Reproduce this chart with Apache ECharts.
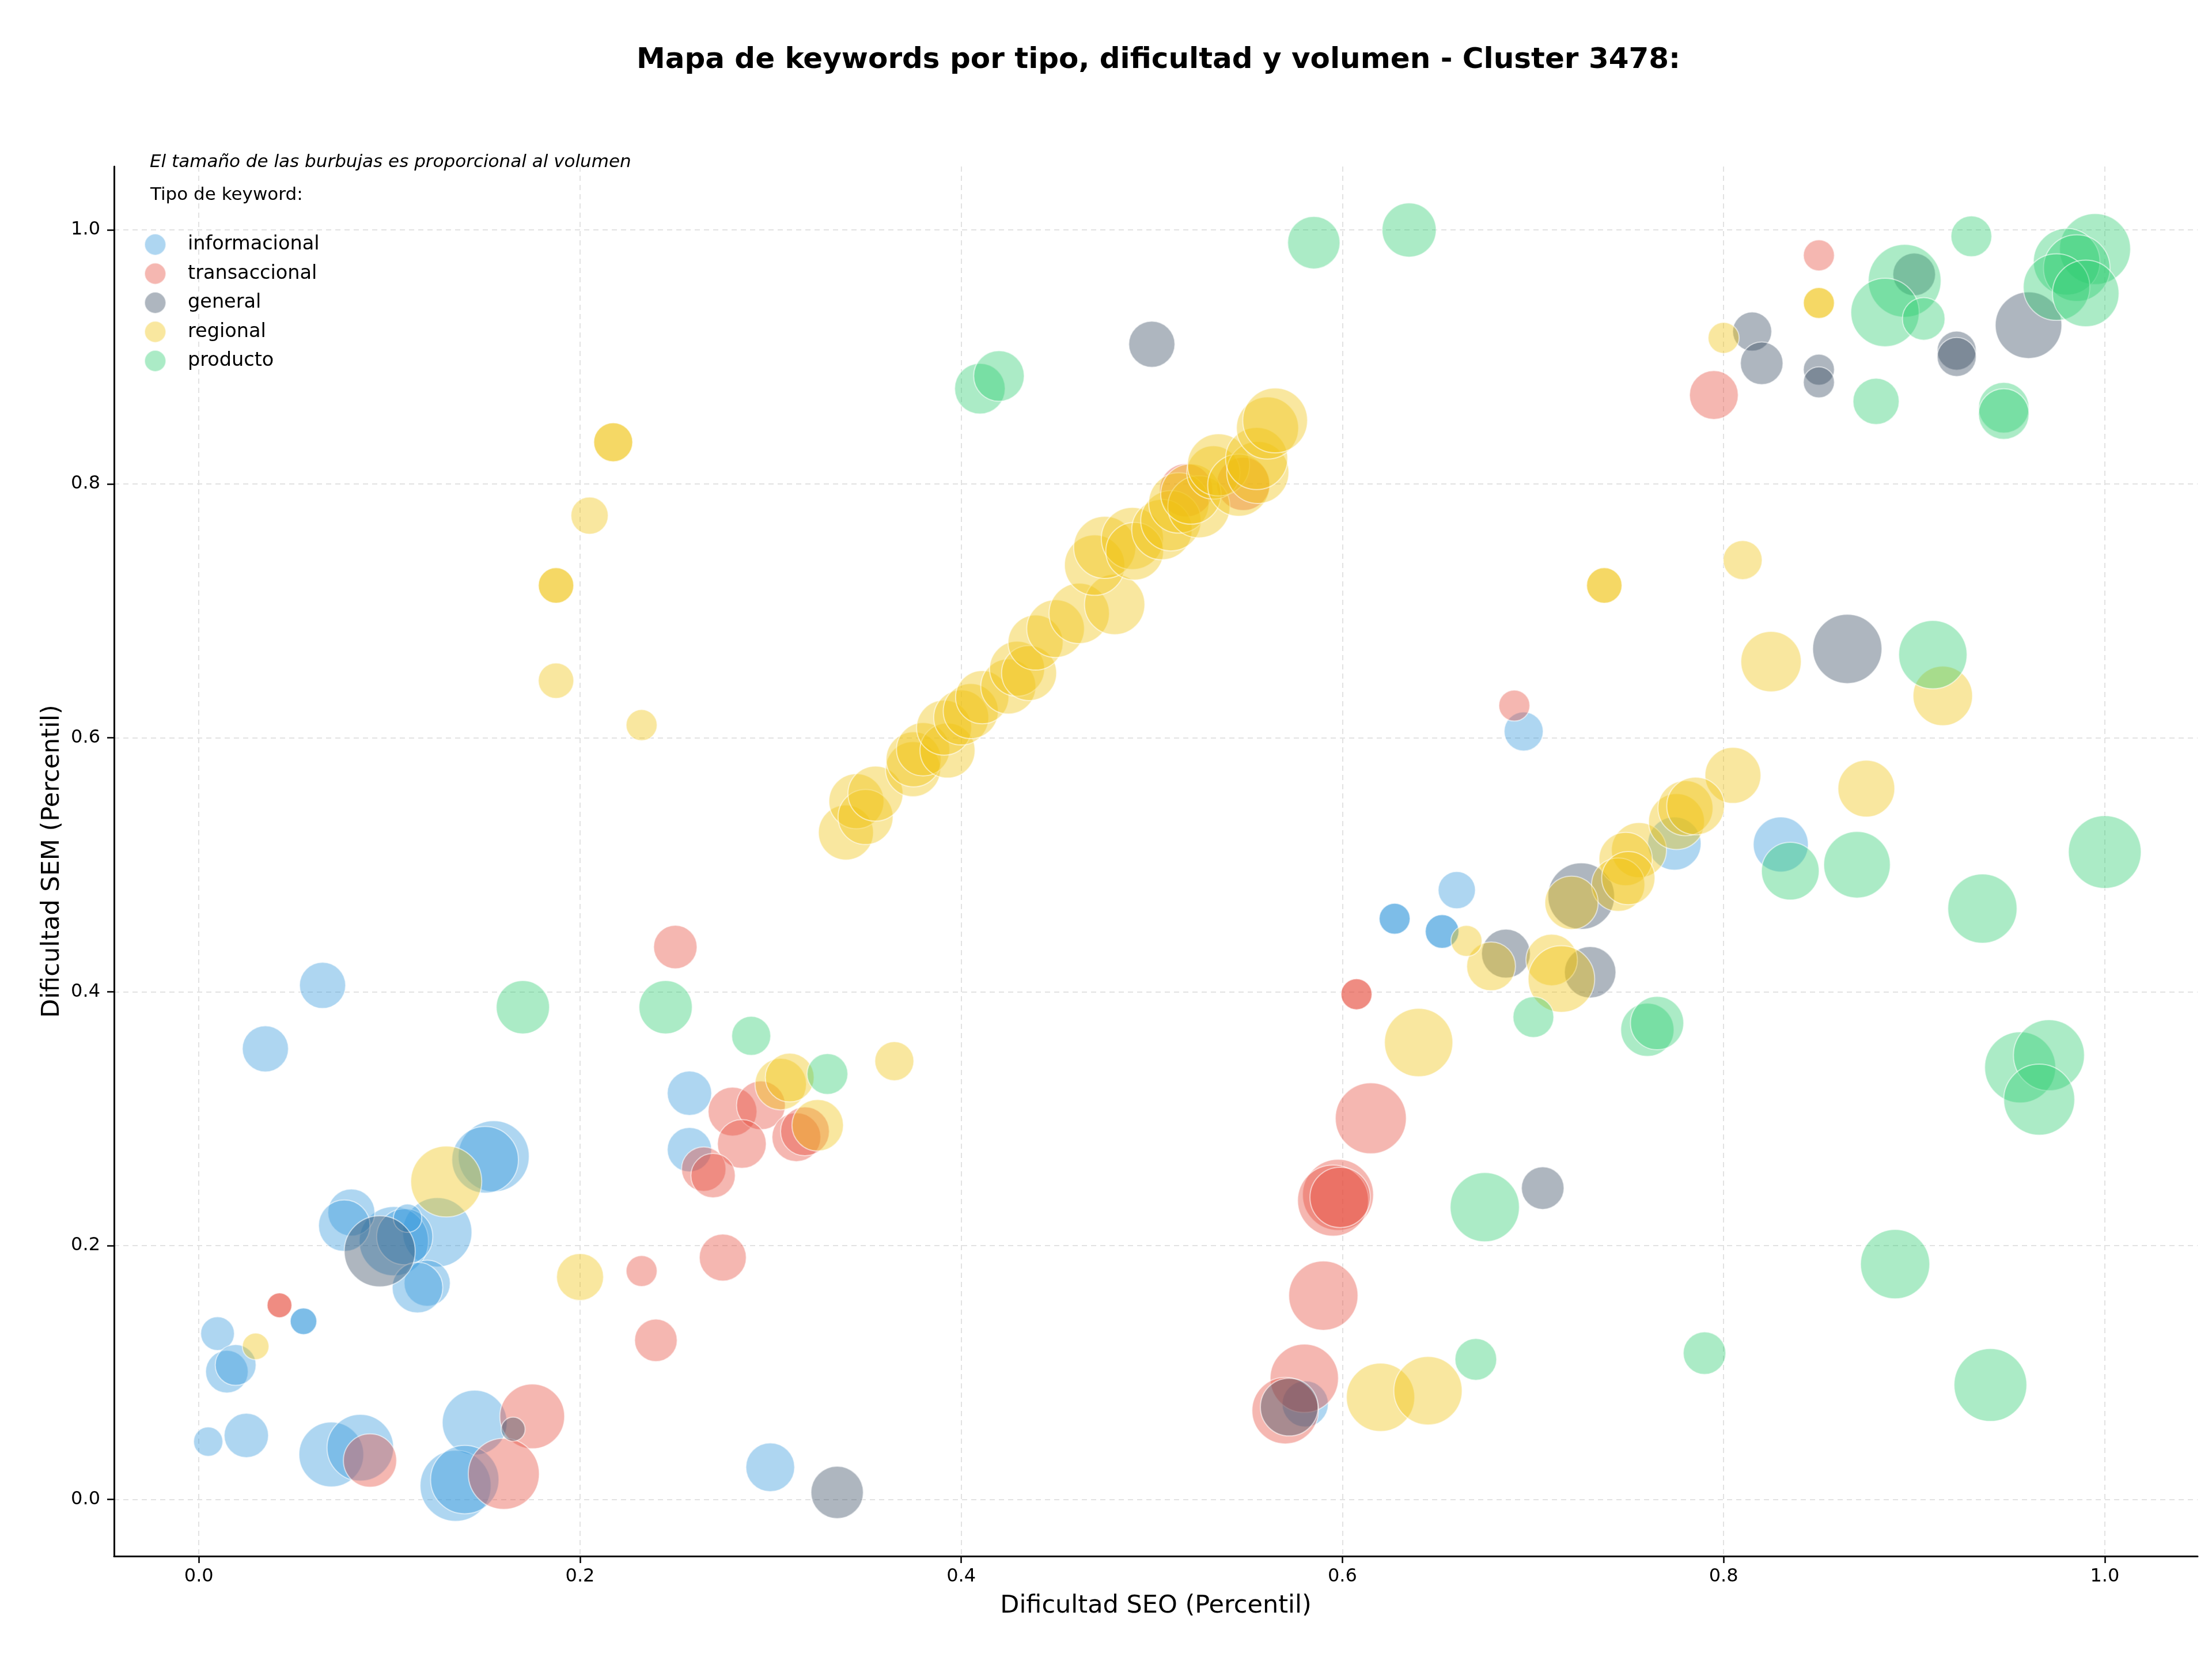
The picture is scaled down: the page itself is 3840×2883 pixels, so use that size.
<!DOCTYPE html>
<html>
<head>
<meta charset="utf-8">
<title>Mapa de keywords</title>
<script src="https://cdn.jsdelivr.net/npm/echarts@6/dist/echarts.min.js"></script>
<style>
  html, body { margin: 0; padding: 0; background: #fff; }
  #chart { width: 3840px; height: 2883px; }
</style>
</head>
<body>
<div id="chart"></div>
<script>
// datos: [dificultad SEO, dificultad SEM, volumen]
const informacional = [
  [0.0649, 0.405, 676], [0.0349, 0.355, 676], [0.2574, 0.320, 625], [0.2574, 0.2756, 625],
  [0.2998, 0.0254, 756], [0.1547, 0.2704, 1600], [0.1502, 0.2676, 1406], [0.1251, 0.2105, 1521],
  [0.1023, 0.2035, 1521], [0.108, 0.207, 1000], [0.1095, 0.2216, 256], [0.080, 0.2261, 702],
  [0.0763, 0.2157, 841], [0.1198, 0.1704, 676], [0.1147, 0.1669, 812], [0.0549, 0.1404, 225],
  [0.0549, 0.1404, 225], [0.0098, 0.1307, 361], [0.0147, 0.1007, 576], [0.0193, 0.106, 529],
  [0.0049, 0.0456, 272], [0.0249, 0.0505, 625], [0.0695, 0.0355, 1332], [0.0847, 0.0408, 1406],
  [0.1447, 0.0606, 1332], [0.1347, 0.0108, 1600], [0.1395, 0.0157, 1482],
  [0.660, 0.480, 441], [0.6274, 0.4575, 306], [0.6274, 0.4575, 306], [0.6523, 0.4474, 361],
  [0.6523, 0.4474, 361], [0.5805, 0.0753, 676], [0.6951, 0.605, 484], [0.7742, 0.5167, 900],
  [0.830, 0.516, 961]
]
const transaccional = [
  [0.250, 0.4352, 600], [0.280, 0.3056, 756], [0.2949, 0.3105, 756], [0.2849, 0.2801, 756],
  [0.2649, 0.2603, 625], [0.2698, 0.2551, 625], [0.3135, 0.2854, 756], [0.318, 0.290, 756],
  [0.2323, 0.180, 306], [0.2749, 0.1906, 702], [0.2398, 0.1254, 576], [0.0423, 0.153, 196],
  [0.0423, 0.153, 196], [0.0898, 0.0307, 900], [0.1749, 0.0655, 1332], [0.160, 0.0202, 1600],
  [0.518, 0.795, 900], [0.548, 0.800, 900], [0.6902, 0.6254, 306], [0.850, 0.980, 306],
  [0.7949, 0.870, 756], [0.6074, 0.398, 306], [0.6074, 0.398, 306], [0.6149, 0.3003, 1600],
  [0.5977, 0.240, 1600], [0.5951, 0.2355, 1600], [0.5988, 0.238, 1156], [0.590, 0.1606, 1521],
  [0.580, 0.0955, 1482], [0.570, 0.070, 1406]
]
const general = [
  [0.500, 0.910, 676], [0.815, 0.920, 484], [0.820, 0.895, 576], [0.850, 0.890, 306],
  [0.850, 0.880, 306], [0.900, 0.965, 576], [0.9223, 0.905, 484], [0.9223, 0.900, 484],
  [0.960, 0.925, 1406], [0.8649, 0.670, 1521], [0.7253, 0.4753, 1406], [0.730, 0.4153, 841],
  [0.6858, 0.430, 756], [0.7051, 0.2453, 576], [0.5721, 0.0728, 1056], [0.3349, 0.0056, 870],
  [0.0949, 0.1955, 1600], [0.1649, 0.0554, 182]
]
const regional = [
  [0.2174, 0.8328, 484], [0.2174, 0.8328, 484], [0.205, 0.775, 441], [0.1874, 0.720, 400],
  [0.1874, 0.720, 400], [0.1874, 0.645, 400], [0.2323, 0.610, 306],
  [0.3395, 0.5254, 961], [0.345, 0.550, 961], [0.3498, 0.5376, 961], [0.355, 0.556, 961],
  [0.3747, 0.5753, 961], [0.375, 0.583, 961], [0.380, 0.591, 900], [0.3928, 0.590, 961],
  [0.391, 0.608, 961], [0.400, 0.616, 961], [0.405, 0.621, 961], [0.411, 0.632, 900],
  [0.4247, 0.6404, 961], [0.4293, 0.6544, 961], [0.4356, 0.651, 961], [0.439, 0.675, 961],
  [0.4495, 0.686, 1056], [0.4619, 0.698, 1156], [0.4805, 0.705, 1156], [0.470, 0.736, 1156],
  [0.4753, 0.750, 1225], [0.4898, 0.757, 1225], [0.491, 0.747, 1056], [0.5053, 0.764, 1156],
  [0.510, 0.771, 1156], [0.5142, 0.785, 1156], [0.5247, 0.782, 1225], [0.5205, 0.792, 1156],
  [0.5323, 0.809, 900], [0.535, 0.815, 1225], [0.5456, 0.799, 1225], [0.5556, 0.809, 1225],
  [0.555, 0.820, 1225], [0.5607, 0.844, 1225], [0.5647, 0.850, 1332],
  [0.850, 0.9425, 306], [0.850, 0.9425, 306], [0.800, 0.915, 306], [0.7374, 0.720, 400],
  [0.7374, 0.720, 400], [0.810, 0.740, 484], [0.8249, 0.660, 1156], [0.915, 0.633, 1122],
  [0.8049, 0.5704, 992], [0.8749, 0.560, 1024], [0.7556, 0.5115, 961], [0.7753, 0.534, 992],
  [0.780, 0.5446, 961], [0.7853, 0.5463, 1056], [0.7486, 0.5045, 900], [0.7447, 0.4843, 900],
  [0.750, 0.4895, 900], [0.7202, 0.470, 900], [0.7098, 0.425, 841], [0.7149, 0.410, 1406],
  [0.678, 0.420, 756], [0.6651, 0.440, 306], [0.640, 0.360, 1482], [0.620, 0.0805, 1482],
  [0.6449, 0.0857, 1482], [0.3649, 0.3453, 484], [0.3053, 0.3272, 841], [0.310, 0.3324, 756],
  [0.3247, 0.2948, 841], [0.200, 0.1753, 702], [0.1298, 0.2505, 1600], [0.0298, 0.1206, 225]
]
const producto = [
  [0.4098, 0.875, 812], [0.4198, 0.885, 812], [0.585, 0.990, 870], [0.635, 1.000, 930],
  [0.880, 0.865, 676], [0.895, 0.960, 1681], [0.8847, 0.935, 1482], [0.905, 0.930, 576],
  [0.930, 0.995, 529], [0.947, 0.860, 812], [0.947, 0.855, 812], [0.9949, 0.985, 1600],
  [0.980, 0.975, 1406], [0.9853, 0.970, 1406], [0.9747, 0.955, 1406], [0.990, 0.950, 1406],
  [0.9098, 0.6655, 1482], [0.835, 0.495, 1056], [0.870, 0.500, 1406], [1.000, 0.510, 1681],
  [0.9358, 0.4655, 1521], [0.9556, 0.3404, 1600], [0.9707, 0.350, 1600], [0.9656, 0.315, 1600],
  [0.890, 0.1854, 1521], [0.940, 0.0902, 1681], [0.790, 0.1153, 576], [0.7002, 0.380, 529],
  [0.760, 0.370, 900], [0.7651, 0.3753, 900], [0.6747, 0.2303, 1521], [0.670, 0.1104, 552],
  [0.3298, 0.3352, 529], [0.170, 0.3878, 900], [0.2449, 0.3878, 900], [0.2898, 0.3652, 484]
]

const tipos = ['informacional', 'transaccional', 'general', 'regional', 'producto']
const colores = ['rgba(52,152,219,0.5)', 'rgba(231,76,60,0.5)', 'rgba(52,73,94,0.5)',
  'rgba(241,196,15,0.5)', 'rgba(46,204,113,0.5)']
const datos = [informacional, transaccional, general, regional, producto]
const ticks = [0, 0.2, 0.4, 0.6, 0.8, 1.0]

const font = 'DejaVu Sans'
var myChart = echarts.init(document.getElementById('chart'))

// ejes comunes
function axis(name, min, max, extra, margin) {
  return Object.assign({
    type: 'value',
    name: name,
    nameLocation: 'middle',
    nameTextStyle: { fontFamily: font, fontSize: 43, color: '#000' },
    min: min,
    max: max,
    axisLine: { show: true, onZero: false, lineStyle: { color: '#000', width: 3 } },
    axisTick: { show: true, length: 12, lineStyle: { color: '#000', width: 2.5 }, customValues: ticks },
    axisLabel: {
      customValues: ticks,
      margin: margin,
      fontFamily: font, fontSize: 32, color: '#000',
      formatter: v => v.toFixed(1)
    },
    splitLine: { show: true, lineStyle: { color: '#e2e2e2', width: 2, type: [9, 7] } }
  }, extra)
}

var option = {
  animation: false,
  backgroundColor: '#fff',
  title: {
    text: 'Mapa de keywords por tipo, dificultad y volumen - Cluster 3478:',
    left: 2006,
    textAlign: 'center',
    top: 75,
    textStyle: { fontFamily: font, fontSize: 50, fontWeight: 'bold', color: '#000' }
  },
  grid: { left: 198, right: 25, top: 289, bottom: 182 },
  xAxis: axis('Dificultad SEO (Percentil)', -0.0445, 1.0487, { nameGap: 65 }, 20),
  yAxis: axis('Dificultad SEM (Percentil)', -0.0446, 1.05, { nameGap: 84, nameRotate: 90 }, 24),
  legend: {
    orient: 'vertical',
    left: 245,
    top: 400,
    icon: 'circle',
    itemWidth: 37,
    itemHeight: 37,
    itemGap: 11.5,
    data: tipos,
    textStyle: { fontFamily: font, fontSize: 33.5, color: '#000', padding: [0, 0, 0, 33] }
  },
  graphic: [
    {
      type: 'text', left: 260, top: 266,
      style: { text: 'El tamaño de las burbujas es proporcional al volumen', font: 'italic 31px "DejaVu Sans"', fill: '#000' }
    },
    {
      type: 'text', left: 261, top: 323,
      style: { text: 'Tipo de keyword:', font: '31px "DejaVu Sans"', fill: '#000' }
    }
  ],
  series: tipos.map((t, i) => ({
    name: t,
    type: 'scatter',
    data: datos[i],
    symbolSize: v => 3.08 * Math.sqrt(v[2]),
    itemStyle: { color: colores[i], borderColor: 'rgba(255,255,255,0.7)', borderWidth: 2 }
  }))
}

myChart.setOption(option)
</script>
</body>
</html>
